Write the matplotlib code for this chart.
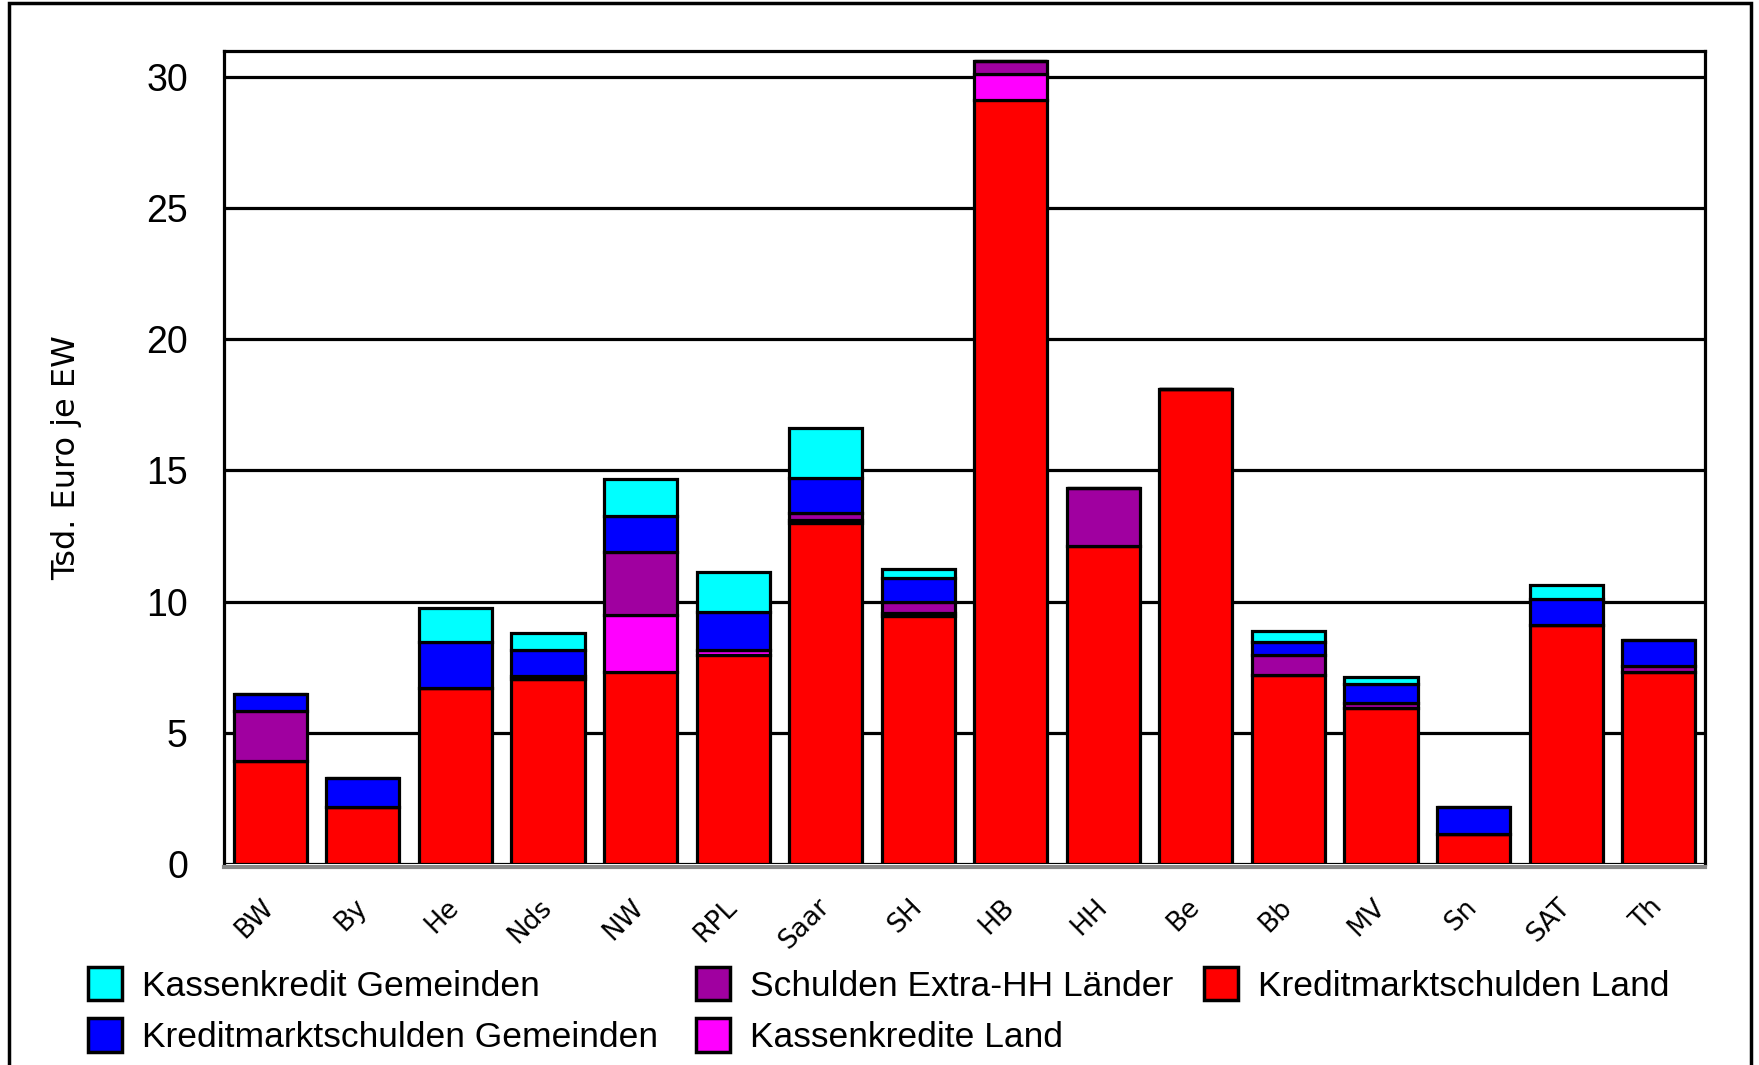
import matplotlib
matplotlib.use("Agg")
import matplotlib.pyplot as plt
import matplotlib.transforms as mtransforms
import numpy as np
from matplotlib.patches import Patch, Rectangle

# Data: Tsd. Euro je Einwohner, per Land
states = ["BW", "By", "He", "Nds", "NW", "RPL", "Saar", "SH",
          "HB", "HH", "Be", "Bb", "MV", "Sn", "SAT", "Th"]
kredit_land = [3.94, 2.16, 6.72, 7.04, 7.3, 7.98, 13.0, 9.45,
               29.1, 12.1, 18.1, 7.21, 5.94, 1.14, 9.12, 7.31]
kasse_land = [0, 0, 0, 0, 2.17, 0.19, 0.1, 0.12,
              1.0, 0, 0, 0, 0, 0, 0, 0]
extra_hh = [1.89, 0, 0, 0.12, 2.41, 0, 0.28, 0.43,
            0.5, 2.22, 0, 0.75, 0.2, 0, 0, 0.22]
kredit_gem = [0.63, 1.12, 1.74, 1.0, 1.4, 1.43, 1.32, 0.88,
              0, 0, 0, 0.5, 0.72, 1.02, 0.99, 1.02]
kasse_gem = [0, 0, 1.3, 0.64, 1.4, 1.53, 1.9, 0.38,
             0, 0, 0, 0.41, 0.28, 0, 0.51, 0]

series = [
    ("Kreditmarktschulden Land", kredit_land, "#ff0000"),
    ("Kassenkredite Land", kasse_land, "#ff00ff"),
    ("Schulden Extra-HH Länder", extra_hh, "#a000a0"),
    ("Kreditmarktschulden Gemeinden", kredit_gem, "#0000ff"),
    ("Kassenkredit Gemeinden", kasse_gem, "#00ffff"),
]

W, H = 1759, 1065
fig = plt.figure(figsize=(W / 100, H / 100), dpi=100)
ax = fig.add_axes([224 / W, 1 - 864 / H, (1705 - 224) / W, (864 - 50.5) / H])

x = np.arange(len(states))
bottom = np.zeros(len(states))
for name, vals, col in series:
    vals = np.array(vals, dtype=float)
    ax.bar(x, vals, width=0.79, bottom=bottom, color=col,
           edgecolor="black", linewidth=2.3, zorder=3)
    bottom += vals

ax.set_xlim(-0.5, len(states) - 0.5)
ax.set_ylim(0, 31)
ax.yaxis.grid(True, color="black", linewidth=2.3, zorder=0)
ax.set_axisbelow(True)

ax.tick_params(axis="y", length=0, pad=26)
ax.set_yticks(range(0, 31, 5))
ax.set_yticklabels([str(v) for v in range(0, 31, 5)],
                   fontsize=27, family="Liberation Sans")

# x labels drawn by hand, rotated 45 degrees below each bar
ax.set_xticks(x)
ax.set_xticklabels([])
ax.tick_params(axis="x", length=0)
lab_trans = mtransforms.offset_copy(ax.get_xaxis_transform(), fig=fig,
                                    x=9, y=-30, units="dots")
for xi, s in zip(x, states):
    ax.text(xi, 0, s, transform=lab_trans, rotation=45, ha="right", va="top",
            fontsize=19, clip_on=False)

for side in ["left", "top", "right"]:
    ax.spines[side].set_color("black")
    ax.spines[side].set_linewidth(2.3)
ax.spines["bottom"].set_color("#888888")
ax.spines["bottom"].set_linewidth(3)
ax.spines["bottom"].set_position(("outward", 2))

ax.set_ylabel("Tsd. Euro je EW", fontsize=23)
ax.yaxis.set_label_coords(-0.096, 0.5)

# legend in three columns, placed like the original
by_name = {name: col for name, _, col in series}
columns = [
    (88, ["Kassenkredit Gemeinden", "Kreditmarktschulden Gemeinden"]),
    (696, ["Schulden Extra-HH Länder", "Kassenkredite Land"]),
    (1204, ["Kreditmarktschulden Land"]),
]
for x0, names in columns:
    handles = [Patch(facecolor=by_name[n], edgecolor="black", linewidth=2.5, label=n)
               for n in names]
    fig.legend(handles=handles, loc="upper left",
               bbox_to_anchor=(x0 / W, 1 - 967 / H), frameon=False,
               prop={"family": "Liberation Sans", "size": 25.5},
               handlelength=0.96, handleheight=1.07, handletextpad=0.56,
               labelspacing=0.44, borderpad=0, borderaxespad=0)

# outer frame
fig.patches.append(Rectangle((9 / W, -0.05), (1751 - 9) / W, 1.05 - 3 / H,
                             transform=fig.transFigure, fill=False,
                             edgecolor="black", linewidth=2.5))

fig.savefig("out.png", dpi=100)
